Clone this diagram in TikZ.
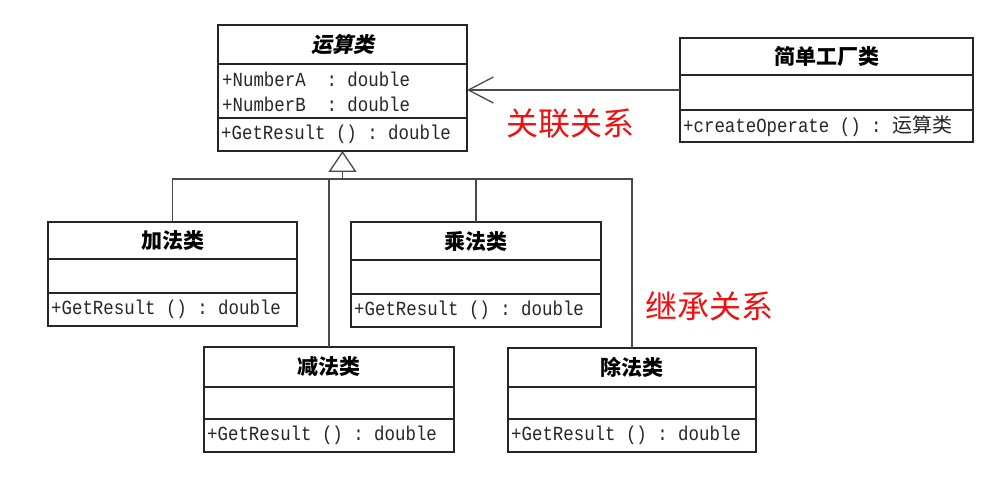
\documentclass[tikz,border=0pt]{standalone}
\usepackage{fontspec}
\usetikzlibrary{arrows.meta,calc}
\newfontfamily\cjk{Noto Sans CJK SC}
\newfontfamily\cjkslant[FakeSlant=0.2]{Noto Sans CJK SC}
\newfontfamily\umlmono[FakeStretch=0.87]{Liberation Mono}
\definecolor{boxline}{HTML}{262626}
\definecolor{linkline}{HTML}{4A4A4A}
\definecolor{notered}{HTML}{F01010}

\tikzset{
  classbox/.style={draw=boxline, line width=1.5pt, fill=white, inner sep=0pt,
                   outer sep=0pt, anchor=north west},
  sepline/.style={draw=boxline, line width=1.5pt},
  titletext/.style={font=\cjk\bfseries\fontsize{21}{25}\selectfont, inner sep=0pt},
  membertext/.style={font=\umlmono\fontsize{20}{24}\selectfont, inner sep=0pt,
                     anchor=west, text=black!85},
  relabel/.style={font=\cjk\fontsize{32}{38}\selectfont, text=notered, inner sep=0pt},
  link/.style={draw=linkline, line width=1.1pt},
}

% \umlclass{name}{x}{y}{width}{title height}{attribute height}{operation height}{title}
\newcommand\umlclass[8]{%
  \node[classbox, minimum width=#4pt, minimum height={#5pt+#6pt+#7pt}] (#1) at (#2,#3) {};
  \draw[sepline] ($(#1.north west)+(0,#5)$) -- ++(#4,0);
  \draw[sepline] ($(#1.north west)+(0,#5+#6)$) -- ++(#4,0);
  \node[titletext] (#1-title) at ($(#1.north)+(0,#5/2)$) {#8};
  \coordinate (#1-attr) at ($(#1.north west)+(4,#5+#6/2)$);
  \coordinate (#1-op) at ($(#1.north west)+(3,#5+#6+#7/2)$);
}

\begin{document}
\begin{tikzpicture}[x=1pt,y=-1pt]
  \useasboundingbox[fill=white] (0,0) rectangle (984,478);

  % abstract operation class
  \umlclass{calc}{218}{25}{249}{39}{54}{33}{{\cjkslant\bfseries 运算类}}
  \node[membertext] (calc-a1) at ($(calc-attr)+(0,-12)$) {+NumberA\ \ :\ double};
  \node[membertext] (calc-a2) at ($(calc-attr)+(0,13)$) {+NumberB\ \ :\ double};
  \node[membertext] (calc-o) at (calc-op) {+GetResult\ ()\ :\ double};

  % factory class
  \umlclass{fac}{680}{38}{293}{37}{35}{32}{简单工厂类}
  \node[membertext] (fac-o) at (fac-op) {+createOperate\ ()\ :\ {\cjk\fontsize{20}{24}\selectfont 运算类}};

  % concrete operation classes
  \umlclass{add}{48}{222}{249}{37}{34}{33}{加法类}
  \node[membertext] (add-o) at (add-op) {+GetResult\ ()\ :\ double};

  \umlclass{mul}{351}{222}{250}{38}{34}{33}{乘法类}
  \node[membertext] (mul-o) at (mul-op) {+GetResult\ ()\ :\ double};

  \umlclass{sub}{204}{347}{250}{40}{32}{33}{减法类}
  \node[membertext] (sub-o) at (sub-op) {+GetResult\ ()\ :\ double};

  \umlclass{div}{508}{348}{248}{39}{32}{33}{除法类}
  \node[membertext] (div-o) at (div-op) {+GetResult\ ()\ :\ double};

  % association: factory -> operation
  \draw[link, -{Straight Barb[length=25pt, width=26pt, line width=1.3pt]}]
    (fac.west) -- (calc.east |- fac.west);

  % generalization bus
  \coordinate (bus) at (342.5,179);
  \draw[link] (add.north) -- (add.north |- bus) -- (div.north |- bus) -- (div.north);
  \draw[link] (mul.north) -- (mul.north |- bus);
  \draw[link] (sub.north) -- (sub.north |- bus);
  \draw[link, -{Triangle[open, length=21pt, width=28pt, line width=1.3pt]}]
    (bus) -- (calc.south);

  % relation labels
  \node[relabel] (assoc) at (570,124) {关联关系};
  \node[relabel] (inher) at (709,306) {继承关系};
\end{tikzpicture}
\end{document}
